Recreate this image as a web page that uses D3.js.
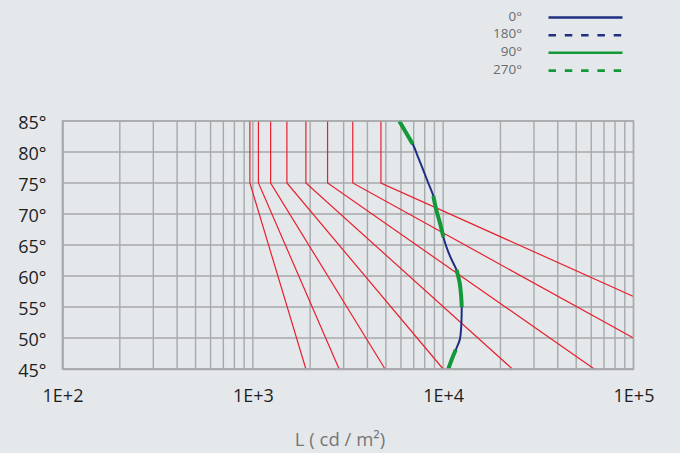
<!DOCTYPE html>
<html>
<head>
<meta charset="utf-8">
<script src="https://cdn.jsdelivr.net/npm/d3@7/dist/d3.min.js"></script>
<style>
  html, body { margin: 0; padding: 0; background: #e4e8eb; }
  svg { display: block; font-family: "Open Sans", "Noto Sans", sans-serif; }
</style>
</head>
<body>
<svg id="chart" width="680" height="453"></svg>
<script>
// Luminance limit curves: vertical from 85° to 75°, then straight to the end point
const limitL75    = [965, 1070, 1240, 1510, 1900, 2470, 3350, 4710];
const limitLEnd   = [1900, 2840, 4950, 10000, 23100, 62200, 100000, 100000];
const limitAngEnd = [45, 45, 45, 45, 45, 45, 50, 56.7];

// Luminance distribution of the luminaire (cd/m²) against emission angle
const angles = [85, 83, 81.3, 79, 77, 75, 72.9, 70.5, 68.5, 66.3, 64, 62.5, 61, 59, 57, 55, 52.5, 50, 48.1, 46.5, 45];
const lum0   = [5880, 6420, 6920, 7420, 7880, 8350, 8880, 9230, 9630, 10020, 10600, 11130, 11750, 12190, 12410, 12520, 12470, 12280, 11650, 11080, 10640];
const lum90  = [5880, 6420, 6920, null, null, null, 8880, 9230, 9630, 10020, null, null, 11750, 12190, 12410, 12520, null, null, 11650, 11080, 10640];

const xTicks = [1e2, 1e3, 1e4, 1e5];
const yTicks = [45, 50, 55, 60, 65, 70, 75, 80, 85];

const legendLabels = ["0°", "180°", "90°", "270°"];
const legendColors = ["#1f2f82", "#1f2f82", "#13993a", "#13993a"];
const legendDashed = [false, true, false, true];

const svg = d3.select("#chart");
const x = d3.scaleLog().domain([100, 1e5]).range([62.5, 633.5]);
const y = d3.scaleLinear().domain([45, 85]).range([369, 121]);

const gridColor = "#a7a9ab";

// grid
const grid = svg.append("g");
grid.selectAll("line.v").data(x.ticks()).join("line")
  .attr("class", "v")
  .attr("x1", d => x(d)).attr("x2", d => x(d))
  .attr("y1", y(85)).attr("y2", y(45))
  .attr("stroke", gridColor).attr("stroke-width", 1.4);
grid.selectAll("line.h").data(yTicks).join("line")
  .attr("class", "h")
  .attr("x1", x(100)).attr("x2", x(1e5))
  .attr("y1", d => y(d)).attr("y2", d => y(d))
  .attr("stroke", gridColor).attr("stroke-width", 1.4);

// limit curves
const limitLine = d3.line().x(d => x(d[0])).y(d => y(d[1]));
const limits = limitL75.map((l, i) => [[l, 85], [l, 75], [limitLEnd[i], limitAngEnd[i]]]);
svg.append("g").selectAll("path").data(limits).join("path")
  .attr("d", limitLine)
  .attr("fill", "none")
  .attr("stroke", "#e8202e")
  .attr("stroke-width", 1.2);

// luminance curves
const curve = vals => d3.line()
  .defined((d, i) => vals[i] != null)
  .x((d, i) => x(vals[i]))
  .y(d => y(d))
  .curve(d3.curveMonotoneY)(angles);

svg.append("path").attr("d", curve(lum0))
  .attr("fill", "none").attr("stroke", legendColors[0]).attr("stroke-width", 2);
svg.append("path").attr("d", curve(lum90))
  .attr("fill", "none").attr("stroke", legendColors[2]).attr("stroke-width", 4)
  .attr("stroke-linecap", "butt");

// axes
const xAxis = svg.append("g").attr("transform", `translate(0,${y(45)})`)
  .call(d3.axisBottom(x).tickValues(xTicks).tickSize(0).tickPadding(20)
    .tickFormat(d => "1E+" + Math.round(Math.log10(d))));
const yAxis = svg.append("g").attr("transform", `translate(${x(100)},0)`)
  .call(d3.axisLeft(y).tickValues(yTicks).tickSize(0).tickPadding(16)
    .tickFormat(d => d + "°"));
[xAxis, yAxis].forEach(g => {
  g.select(".domain").attr("stroke", gridColor).attr("stroke-width", 1.6);
  g.selectAll("text").attr("font-size", 18).attr("fill", "#1e1e1e")
    .attr("font-family", "'Open Sans', sans-serif");
});
yAxis.selectAll("text").attr("dy", "0.42em");

// frame top/right
svg.append("rect")
  .attr("x", x(100)).attr("y", y(85))
  .attr("width", x(1e5) - x(100)).attr("height", y(45) - y(85))
  .attr("fill", "none").attr("stroke", gridColor).attr("stroke-width", 1.4);

// axis title
svg.append("text")
  .attr("x", 340).attr("y", 446)
  .attr("text-anchor", "middle")
  .attr("font-size", 18.5).attr("fill", "#767676")
  .text("L ( cd / m²)");

// legend
const leg = svg.append("g");
const rowY = [17.5, 35.2, 52.8, 70.6];
legendLabels.forEach((lab, i) => {
  leg.append("text")
    .attr("x", 522).attr("y", rowY[i] + 3)
    .attr("text-anchor", "end")
    .attr("font-size", 13.5).attr("fill", "#6c6c6c")
    .text(lab);
  leg.append("line")
    .attr("x1", 548.5).attr("x2", 622.5)
    .attr("y1", rowY[i]).attr("y2", rowY[i])
    .attr("stroke", legendColors[i])
    .attr("stroke-width", 2.6)
    .attr("stroke-dasharray", legendDashed[i] ? "7.5,8.8" : null);
});
</script>
</body>
</html>
